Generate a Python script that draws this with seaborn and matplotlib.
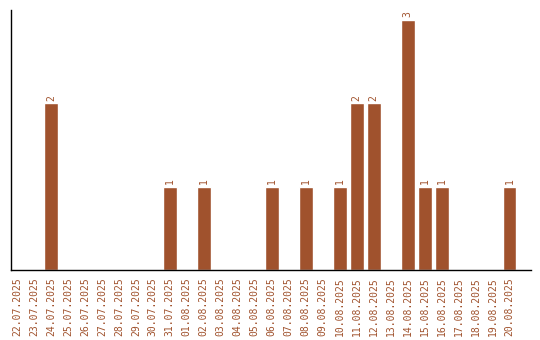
import matplotlib
matplotlib.use("Agg")
import matplotlib.pyplot as plt
import seaborn as sns
import pandas as pd

dates = ["22.07.2025", "23.07.2025", "24.07.2025", "25.07.2025", "26.07.2025",
         "27.07.2025", "28.07.2025", "29.07.2025", "30.07.2025", "31.07.2025",
         "01.08.2025", "02.08.2025", "03.08.2025", "04.08.2025", "05.08.2025",
         "06.08.2025", "07.08.2025", "08.08.2025", "09.08.2025", "10.08.2025",
         "11.08.2025", "12.08.2025", "13.08.2025", "14.08.2025", "15.08.2025",
         "16.08.2025", "17.08.2025", "18.08.2025", "19.08.2025", "20.08.2025"]
counts = [0, 0, 2, 0, 0, 0, 0, 0, 0, 1,
          0, 1, 0, 0, 0, 1, 0, 1, 0, 1,
          2, 2, 0, 3, 1, 1, 0, 0, 0, 1]

color = "#A0522D"
df = pd.DataFrame({"date": dates, "count": counts})

sns.set_style("white")
plt.rcParams["font.family"] = ["DejaVu Sans Mono"]

fig = plt.figure(figsize=(5.4, 3.4), dpi=100)
ax = fig.add_axes([0.0195, 0.206, 0.963, 0.765])
sns.barplot(data=df, x="date", y="count", color=color, saturation=1, width=0.82, ax=ax)

for i, v in enumerate(counts):
    if v > 0:
        ax.text(i, v + 0.03, str(v), rotation=90, ha="center", va="bottom",
                fontsize=7, color=color)

ax.set_xlim(-0.38, 30.24)
ax.set_ylim(0, 3.12)
ax.set_xlabel("")
ax.set_ylabel("")
ax.set_yticks([])
ax.tick_params(axis="x", length=0, pad=5, labelsize=7, labelcolor=color)
plt.setp(ax.get_xticklabels(), rotation=90)
for s in ["top", "right"]:
    ax.spines[s].set_visible(False)
for s in ["left", "bottom"]:
    ax.spines[s].set_color("black")
    ax.spines[s].set_linewidth(1)

fig.savefig("out.png", dpi=100)
